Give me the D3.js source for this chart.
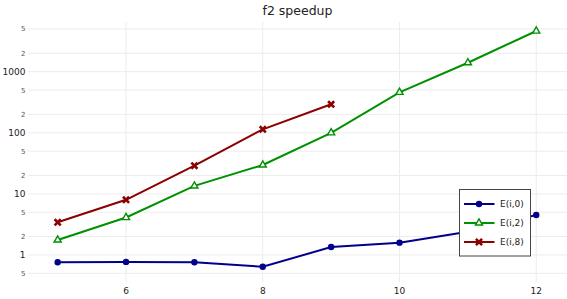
<!DOCTYPE html>
<html>
<head>
<meta charset="utf-8">
<script src="https://cdn.jsdelivr.net/npm/d3@7"></script>
<style>
  body { margin: 0; background: #fff; }
  svg text { font-family: "DejaVu Sans", Verdana, sans-serif; }
</style>
</head>
<body>
<svg width="567" height="299"></svg>
<script>
var xs = [5, 6, 7, 8, 9, 10, 11, 12];
var e0 = [0.76, 0.77, 0.76, 0.64, 1.35, 1.59, 2.4, 4.5];
var e2 = [1.76, 4.1, 13.5, 29.7, 100, 460, 1400, 4630];
var e8 = [3.43, 8.0, 28.9, 114, 293];
var names = ["E(i,0)", "E(i,2)", "E(i,8)"];
var xTicks = [6, 8, 10, 12];
var yTicks = [0.5, 1, 2, 5, 10, 20, 50, 100, 200, 500, 1000, 2000, 5000];

const plotLeft = 28, plotRight = 567, plotTop = 22, plotBottom = 282;

window.onload = function() {
    var svg = d3.select("svg");

    var x = d3.scaleLinear().domain([4.566, 12.45]).range([plotLeft, plotRight]);
    var y = d3.scaleLog().domain([0.361, 6506]).range([plotBottom, plotTop]);

    // gridlines
    svg.append("g").selectAll("line")
        .data(yTicks).enter().append("line")
        .attr("x1", plotLeft).attr("x2", plotRight)
        .attr("y1", d => y(d)).attr("y2", d => y(d))
        .attr("stroke", "#ececec").attr("stroke-width", 1);
    svg.append("g").selectAll("line")
        .data(xTicks).enter().append("line")
        .attr("y1", plotTop).attr("y2", plotBottom)
        .attr("x1", d => x(d)).attr("x2", d => x(d))
        .attr("stroke", "#ececec").attr("stroke-width", 1);

    // y tick labels
    svg.append("g").selectAll("text")
        .data(yTicks).enter().append("text")
        .attr("x", 25.5)
        .attr("y", d => y(d))
        .attr("dy", "0.35em")
        .attr("text-anchor", "end")
        .attr("font-size", function(d){ return Math.log10(d) % 1 === 0 ? 9 : 7; })
        .attr("fill", function(d){ return Math.log10(d) % 1 === 0 ? "#222" : "#555"; })
        .text(function(d){
            if (Math.log10(d) % 1 === 0) return d;
            return String(d).replace("0.", "")[0];
        });

    // x tick labels
    svg.append("g").selectAll("text")
        .data(xTicks).enter().append("text")
        .attr("x", d => x(d))
        .attr("y", 291)
        .attr("dy", "0.35em")
        .attr("text-anchor", "middle")
        .attr("font-size", 9)
        .attr("fill", "#222")
        .text(d => d);

    // title
    svg.append("text")
        .attr("x", (plotLeft + plotRight) / 2)
        .attr("y", 15)
        .attr("text-anchor", "middle")
        .attr("font-size", 12.5)
        .attr("fill", "#222")
        .text("f2 speedup");

    var series = [
        {name: names[0], vals: e0, color: "#00008b", marker: "circle"},
        {name: names[1], vals: e2, color: "#009000", marker: "triangle"},
        {name: names[2], vals: e8, color: "#8b0000", marker: "x"}
    ];

    var line = d3.line().x(d => x(d[0])).y(d => y(d[1]));

    function drawMarker(g, kind, color) {
        if (kind === "circle") {
            g.append("circle").attr("r", 3.2).attr("fill", color);
        } else if (kind === "triangle") {
            g.append("path")
                .attr("d", d3.symbol().type(d3.symbolTriangle).size(22)())
                .attr("fill", "#fff").attr("stroke", color).attr("stroke-width", 1.4);
        } else {
            g.append("path")
                .attr("d", d3.symbol().type(d3.symbolTimes).size(26)())
                .attr("fill", "none").attr("stroke", color).attr("stroke-width", 2.6);
        }
    }

    series.forEach(function(s) {
        var pts = s.vals.map((v, i) => [xs[i], v]);
        svg.append("path")
            .datum(pts)
            .attr("d", line)
            .attr("fill", "none")
            .attr("stroke", s.color)
            .attr("stroke-width", 2);
        pts.forEach(function(p) {
            var g = svg.append("g").attr("transform", "translate(" + x(p[0]) + "," + y(p[1]) + ")");
            drawMarker(g, s.marker, s.color);
        });
    });

    // legend
    var lg = svg.append("g");
    lg.append("rect")
        .attr("x", 459.5).attr("y", 189.5)
        .attr("width", 71).attr("height", 66.5)
        .attr("fill", "#fff").attr("stroke", "#444").attr("stroke-width", 1);
    series.forEach(function(s, i) {
        var cy = 204 + i * 19;
        lg.append("line")
            .attr("x1", 464).attr("x2", 494.5)
            .attr("y1", cy).attr("y2", cy)
            .attr("stroke", s.color).attr("stroke-width", 2);
        var g = lg.append("g").attr("transform", "translate(479," + cy + ")");
        drawMarker(g, s.marker, s.color);
        lg.append("text")
            .attr("x", 500).attr("y", cy)
            .attr("dy", "0.35em")
            .attr("font-size", 9)
            .attr("fill", "#222")
            .text(s.name);
    });
}
</script>
</body>
</html>
